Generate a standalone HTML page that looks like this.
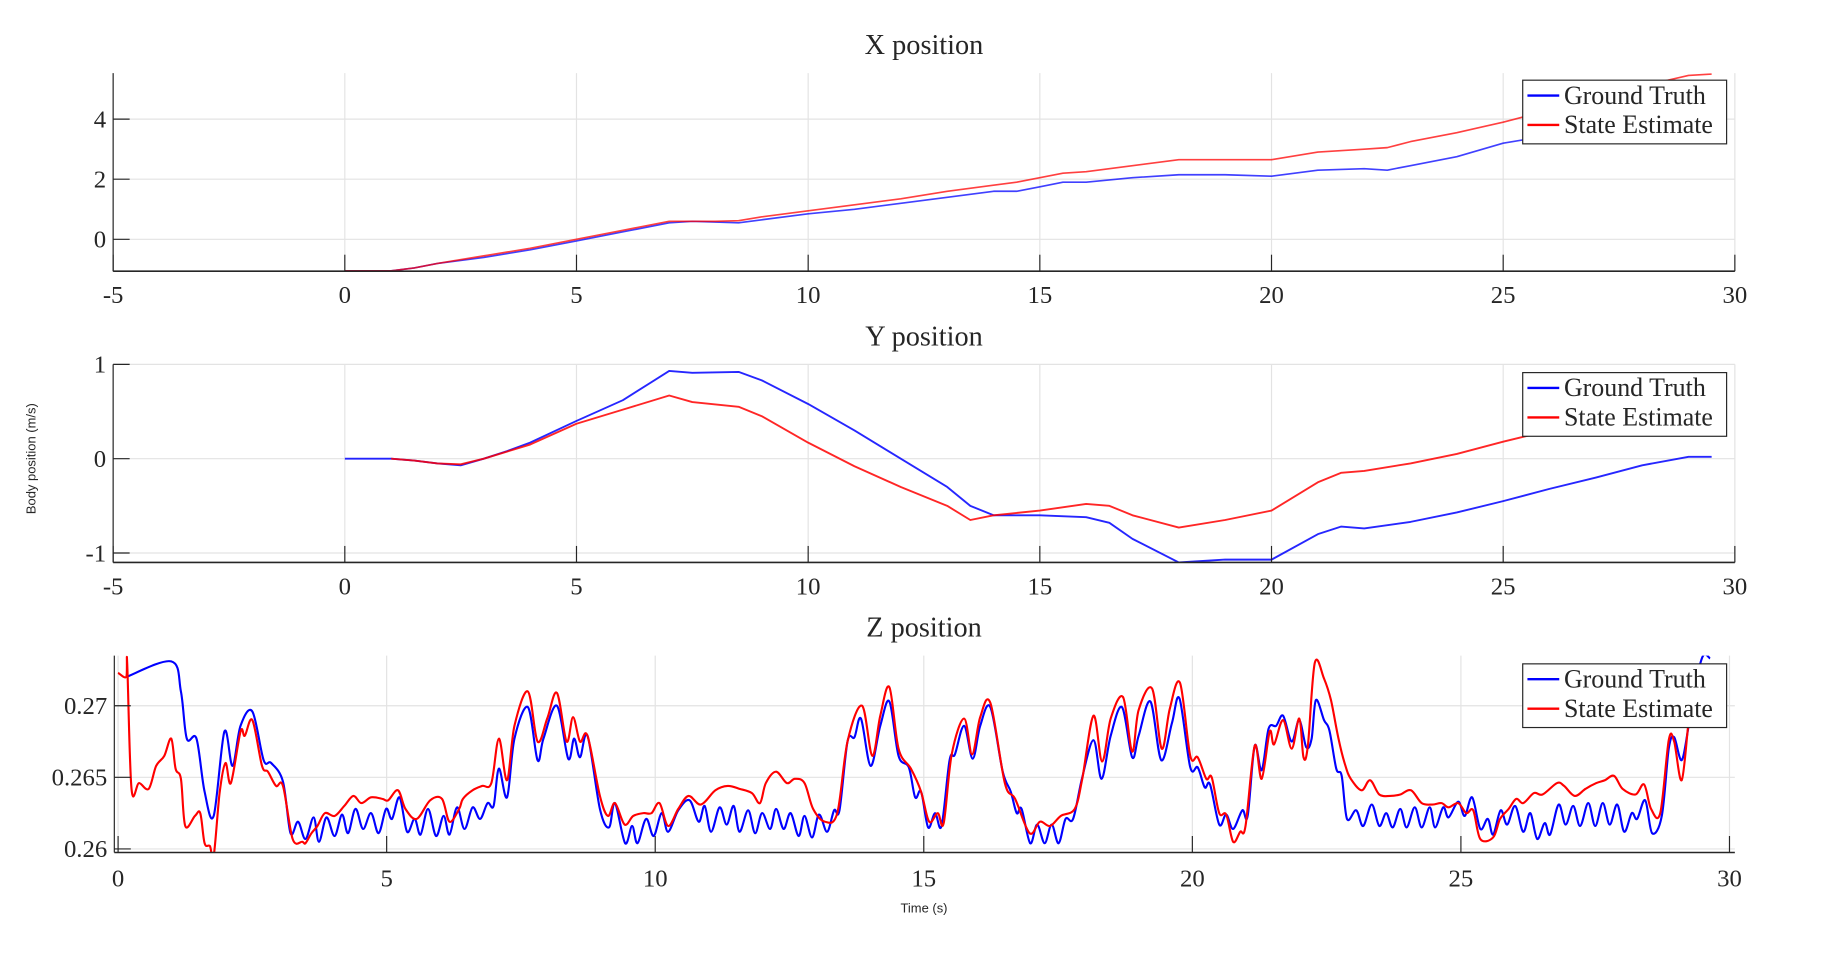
<!DOCTYPE html>
<html><head><meta charset="utf-8"><style>
html,body{margin:0;padding:0;background:#fff;}
svg{display:block;}
text{font-family:"Liberation Serif",serif;fill:#262626;}
.sans{font-family:"Liberation Sans",sans-serif;}
</style></head><body>
<svg id="fig" width="1848" height="961" viewBox="0 0 1568 815" preserveAspectRatio="none" xmlns="http://www.w3.org/2000/svg"></svg>
<script>
// ---- X position data ----
const xTimeGT = [0,1,1.5,2,3,4,5,6,7,7.5,8.5,9,10,11,12,13,14,14.5,15,15.5,16,17,18,19,20,21,22,22.5,23,24,25,26,27,28,29,29.5];
const xValGT  = [-1.05,-1.05,-0.95,-0.8,-0.6,-0.35,-0.05,0.25,0.55,0.6,0.55,0.65,0.85,1.0,1.2,1.4,1.6,1.6,1.75,1.9,1.9,2.05,2.15,2.15,2.1,2.3,2.35,2.3,2.45,2.75,3.2,3.45,3.75,4.0,4.3,4.45];
const xTimeSE = [0,1,1.5,2,3,4,5,6,7,8,8.5,9,10,11,12,13,14,14.5,15,15.5,16,17,18,19,20,21,22,22.5,23,24,25,26,27,28,29,29.5];
const xValSE  = [-1.05,-1.05,-0.95,-0.8,-0.55,-0.3,0.0,0.3,0.6,0.6,0.62,0.75,0.95,1.15,1.35,1.6,1.8,1.9,2.05,2.2,2.25,2.45,2.65,2.65,2.65,2.9,3.0,3.05,3.25,3.55,3.9,4.3,4.7,5.1,5.45,5.5];
// ---- Y position data ----
const yTimeGT = [0,1,1.5,2,2.5,3,3.5,4,5,6,7,7.5,8.5,9,10,11,12,13,13.5,14,15,16,16.5,17,18,19,20,21,21.5,22,23,24,25,26,27,28,29,29.5];
const yValGT  = [0,0,-0.02,-0.05,-0.07,0,0.08,0.17,0.4,0.62,0.93,0.91,0.92,0.83,0.58,0.3,0.0,-0.3,-0.5,-0.6,-0.6,-0.62,-0.68,-0.85,-1.1,-1.07,-1.07,-0.8,-0.72,-0.74,-0.67,-0.57,-0.45,-0.32,-0.2,-0.07,0.02,0.02];
const yTimeSE = [1,1.5,2,2.5,3,4,5,6,7,7.5,8.5,9,10,11,12,13,13.5,14,15,16,16.5,17,18,19,20,21,21.5,22,23,24,25,26,27,28,29];
const yValSE  = [0,-0.02,-0.05,-0.06,0,0.15,0.37,0.52,0.67,0.6,0.55,0.45,0.17,-0.08,-0.3,-0.5,-0.65,-0.6,-0.55,-0.48,-0.5,-0.6,-0.73,-0.65,-0.55,-0.25,-0.15,-0.13,-0.05,0.05,0.18,0.3,0.4,0.5,0.6];
// ---- Z position data (mm) ----
const zTimeGT = [0.15,0.99,1.17,1.28,1.46,1.61,1.78,1.98,2.13,2.28,2.5,2.71,2.85,3.07,3.21,3.35,3.49,3.64,3.74,3.88,4.03,4.17,4.28,4.42,4.56,4.71,4.85,4.99,5.1,5.24,5.38,5.52,5.63,5.77,5.92,6.06,6.17,6.31,6.45,6.6,6.74,6.88,6.99,7.09,7.24,7.38,7.63,7.81,7.92,8.17,8.38,8.49,8.6,8.74,8.97,9.14,9.25,9.44,9.57,9.67,9.83,9.97,10.12,10.24,10.43,10.64,10.81,10.92,11.04,11.2,11.33,11.46,11.57,11.73,11.86,11.99,12.14,12.25,12.39,12.52,12.67,12.78,12.92,13.05,13.2,13.33,13.43,13.58,13.71,13.83,14.01,14.19,14.36,14.53,14.72,14.84,14.95,15.08,15.21,15.33,15.48,15.58,15.75,15.91,16.05,16.24,16.47,16.62,16.73,16.82,16.98,17.11,17.25,17.38,17.51,17.64,17.78,17.95,18.16,18.31,18.48,18.69,18.88,19.0,19.22,19.42,19.62,19.76,19.96,20.1,20.23,20.33,20.5,20.63,20.76,20.93,21.03,21.16,21.29,21.42,21.56,21.69,21.85,21.99,22.12,22.22,22.3,22.45,22.55,22.68,22.78,22.88,23.05,23.18,23.34,23.48,23.61,23.73,23.87,23.99,24.14,24.27,24.42,24.52,24.67,24.77,24.95,25.07,25.21,25.36,25.5,25.6,25.74,25.86,26.01,26.16,26.29,26.42,26.56,26.66,26.82,26.95,27.09,27.22,27.37,27.5,27.64,27.77,27.91,28.04,28.18,28.28,28.43,28.56,28.74,28.87,28.97,29.11,29.24,29.38,29.51,29.64];
const zValGT  = [272.0,273.1,271,267.7,267.7,264,262.3,268.2,265.8,268.6,269.6,266.2,266,264.7,261.1,261.9,260.7,262.2,260.5,262.2,260.9,262.4,261.1,262.8,261.4,262.5,261.1,262.8,262.1,263.6,261.2,262.1,261,262.8,260.9,262.3,261,262.9,261.4,262.9,262.1,263.2,263,265.6,263.6,267.7,269.9,266.2,267.7,270,266.3,267.7,266.4,267.9,262.8,261.5,263.2,260.4,261.6,260.4,262.1,260.9,262.5,261.2,262.7,263.4,261.9,263,261.2,262.9,261.7,263,261.2,262.7,261.1,262.5,261.4,262.8,261.4,262.5,260.9,262.3,260.8,262.4,261.2,262.7,262.7,267.5,267.8,269.1,265.8,268.6,270.3,266.5,265.7,263.6,264,261.5,262.5,261.6,266.2,266.6,268.6,266.3,268.6,269.9,265.4,264,262.5,262.8,260.4,261.7,260.4,261.7,260.4,262.1,262.1,265,267.6,264.9,267.9,269.9,266.4,267.9,270.3,266.2,268.8,270.5,265.7,265.7,264.3,264.5,261.7,262.4,261.4,262.7,262.3,267.2,265.5,268.4,268.6,269.3,267.5,269,267.1,267.7,270.4,269,268.3,265.6,265.1,262.1,262.7,261.6,263.1,261.6,262.5,261.5,262.8,261.5,262.9,261.5,262.9,261.5,262.9,262.2,263.3,262.3,263.6,261.4,262.1,261,262.7,261.7,263,261.2,262.5,260.7,261.8,261,263.1,261.7,263,261.6,263.2,261.6,263.2,261.7,263.1,261.2,262.5,262.1,263.4,261.1,262.3,267,267.8,266.2,268.6,271.7,273.5,273.3];
const zTimeSE = [0,0.15,0.17,0.25,0.39,0.57,0.71,0.86,0.99,1.07,1.17,1.25,1.43,1.53,1.61,1.71,1.78,1.89,2.0,2.1,2.28,2.36,2.5,2.68,2.79,2.94,3.07,3.25,3.43,3.49,3.6,3.71,3.85,4.03,4.21,4.38,4.53,4.71,4.92,5.03,5.21,5.35,5.56,5.81,6.03,6.17,6.35,6.42,6.6,6.78,6.95,7.09,7.24,7.38,7.63,7.81,7.99,8.17,8.35,8.47,8.6,8.74,8.97,9.12,9.25,9.43,9.59,9.78,9.93,10.08,10.24,10.43,10.62,10.85,11.12,11.35,11.57,11.8,11.95,12.06,12.25,12.45,12.6,12.78,12.94,13.16,13.39,13.58,13.85,14.04,14.19,14.36,14.53,14.76,14.95,15.1,15.26,15.37,15.52,15.75,15.9,16.05,16.24,16.51,16.7,16.97,17.16,17.35,17.55,17.81,17.95,18.16,18.32,18.48,18.71,18.88,19.0,19.25,19.43,19.58,19.77,19.96,20.1,20.26,20.36,20.5,20.63,20.76,20.89,20.99,21.16,21.29,21.44,21.52,21.69,21.85,21.99,22.07,22.15,22.28,22.45,22.58,22.72,22.85,22.95,23.15,23.31,23.48,23.68,23.87,24.07,24.27,24.47,24.64,24.77,24.95,25.1,25.23,25.36,25.6,25.73,25.89,26.03,26.16,26.36,26.52,26.79,26.92,27.12,27.32,27.52,27.68,27.85,28.01,28.25,28.41,28.54,28.71,28.87,28.97,29.11,29.24,29.31];
const zValSE  = [272.3,272,273,264.2,264.6,264.2,265.8,266.5,267.7,265.6,264.9,261.6,262.3,262.5,260.4,260.2,259.5,263.9,266,264.6,268.2,267.9,269,265.8,265.4,264.4,264.4,260.7,260.5,260.4,261.1,261.6,262.5,262.3,263,263.7,263.2,263.6,263.5,263.4,264.1,262.8,262.1,263.4,263.5,261.9,262.8,263.5,264.1,264.4,264.6,267.7,264.8,268.6,271,267.5,269.1,270.9,267.5,269.2,267.5,267.9,263.7,262.3,263.2,261.7,262.3,262.5,262.5,263.2,261.6,262.8,263.7,263.1,264.1,264.4,264.2,263.9,263.2,264.6,265.4,264.6,264.9,264.6,262.8,261.9,262.5,267.5,270,266.5,269.3,271.3,267,265.6,264,261.9,262.5,261.8,266.6,269.1,266.6,269.2,270.2,264.6,263.5,261.1,261.9,261.6,262.3,262.8,264.9,269.3,266.1,269.1,270.6,266.8,269.7,271.2,267,269.8,271.6,266.5,266.4,264.9,265,262.5,262.4,260.5,261.2,261.6,267.2,264.9,268.2,267.3,269,267,269.1,266.4,267.2,273,271.9,270.4,267.7,265.8,264.9,264.1,264.8,263.8,263.7,263.8,264.1,263.2,263.1,263.2,262.9,263.2,262.5,262.7,260.7,260.8,262.1,262.8,263.5,263.2,263.9,263.8,264.6,264.4,263.7,264.2,264.6,264.8,265.1,264.2,263.8,264.5,262.8,262.5,267.6,267.5,264.8,268.9,270];
// ---- tick labels ----
const xTicks = [-5,0,5,10,15,20,25,30];
const zTicksT = [0,5,10,15,20,25,30];
const xYTicks = [0,2,4];
const yYTicks = [-1,0,1];
const zYTicks = [260,265,270];
const zYLabels = ['0.26','0.265','0.27'];

const NS='http://www.w3.org/2000/svg';
const svg=document.getElementById('fig');
function mk(tag,attrs,parent){const e=document.createElementNS(NS,tag);for(const k in attrs)e.setAttribute(k,attrs[k]);(parent||svg).appendChild(e);return e;}
function smoothPath(P){
  let d='M'+P[0][0].toFixed(1)+','+P[0][1].toFixed(1);
  for(let i=0;i<P.length-1;i++){
    const p0=P[i-1]||P[i],p1=P[i],p2=P[i+1],p3=P[i+2]||P[i+1];
    const c1x=p1[0]+(p2[0]-p0[0])/6,c1y=p1[1]+(p2[1]-p0[1])/6;
    const c2x=p2[0]-(p3[0]-p1[0])/6,c2y=p2[1]-(p3[1]-p1[1])/6;
    d+='C'+c1x.toFixed(1)+','+c1y.toFixed(1)+' '+c2x.toFixed(1)+','+c2y.toFixed(1)+' '+p2[0].toFixed(1)+','+p2[1].toFixed(1);
  }
  return d;
}

const panels=[
 {name:'x',title:'X position',L:96,R:1472,T:62,B:230,x0:-5,x1:30,y0:-1.06,y1:5.53,xt:xTicks,yt:xYTicks,yl:xYTicks.map(String),
  s:[[xTimeGT,xValGT,'#0000ff'],[xTimeSE,xValSE,'#ff0000']],w:1.4,op:0.75,ticklab:250,leg:[1292,68]},
 {name:'y',title:'Y position',L:96,R:1472,T:309,B:477,x0:-5,x1:30,y0:-1.1,y1:1.0,xt:xTicks,yt:yYTicks,yl:yYTicks.map(String),
  s:[[yTimeGT,yValGT,'#0000ff'],[yTimeSE,yValSE,'#ff0000']],w:1.6,op:0.85,ticklab:497,leg:[1292,316]},
 {name:'z',title:'Z position',L:97,R:1472,T:556,B:723,x0:-0.07,x1:30.1,y0:259.75,y1:273.5,xt:zTicksT,yt:zYTicks,yl:zYLabels,
  s:[[zTimeGT,zValGT,'#0000ff'],[zTimeSE,zValSE,'#ff0000']],w:1.8,op:1,ticklab:745,leg:[1292,563]}
];

panels.forEach(p=>{
  const g=mk('g',{});
  
  
  const sx=v=>p.L+(v-p.x0)/(p.x1-p.x0)*(p.R-p.L);
  const sy=v=>p.B-(v-p.y0)/(p.y1-p.y0)*(p.B-p.T);
  const clip=mk('clipPath',{id:'clip-'+p.name},g);
  mk('rect',{x:p.L,y:p.T,width:p.R-p.L,height:p.B-p.T},clip);
  p.xt.forEach(t=>{const l=mk('line',{x1:sx(t),x2:sx(t),y1:p.T,y2:p.B,stroke:'#e3e3e3','stroke-width':1},g);
    
    });
  p.yt.forEach(t=>{const l=mk('line',{x1:p.L,x2:p.R,y1:sy(t),y2:sy(t),stroke:'#e3e3e3','stroke-width':1},g);
    
    });
  p.s.forEach((s,i)=>{
    const pts=s[0].map((t,j)=>[sx(t),sy(s[1][j])]);
    const d=p.name==='z'?smoothPath(pts):pts.map((q,j)=>(j?'L':'M')+q[0].toFixed(1)+','+q[1].toFixed(1)).join('');
    const path=mk('path',{d:d,fill:'none',stroke:s[2],'stroke-width':p.w,'stroke-opacity':p.op,'stroke-linejoin':'round','clip-path':'url(#clip-'+p.name+')'},g);
    
    
  });
  mk('line',{x1:p.L,x2:p.L,y1:p.T,y2:p.B,stroke:'#262626','stroke-width':1},g);
  mk('line',{x1:p.L,x2:p.R,y1:p.B,y2:p.B,stroke:'#262626','stroke-width':1.3},g);
  p.xt.forEach(t=>{
    mk('line',{x1:sx(t),x2:sx(t),y1:p.B,y2:p.B-14,stroke:'#262626','stroke-width':1},g);
    const tx=mk('text',{x:sx(t),y:p.ticklab+7,'text-anchor':'middle','font-size':21},g);
    tx.textContent=String(t);
    
    
  });
  p.yt.forEach((t,i)=>{
    mk('line',{x1:p.L,x2:p.L+14,y1:sy(t),y2:sy(t),stroke:'#262626','stroke-width':1},g);
    const tx=mk('text',{x:p.L-6,y:sy(t)+7,'text-anchor':'end','font-size':21},g);
    tx.textContent=p.yl[i];
    
    
  });
  const ti=mk('text',{x:784,y:p.T-16,'text-anchor':'middle','font-size':24},g);
  ti.textContent=p.title;
  
  
  const lx=p.leg[0],ly=p.leg[1];
  const lg=mk('g',{},g);
  
  
  mk('rect',{x:lx,y:ly,width:173,height:54,fill:'#fff',stroke:'#262626','stroke-width':1},lg);
  [['Ground Truth','#0000ff',13],['State Estimate','#ff0000',38]].forEach(e=>{
    const le=mk('g',{},lg);
    
    
    mk('line',{x1:lx+4,x2:lx+31,y1:ly+e[2],y2:ly+e[2],stroke:e[1],'stroke-width':2},le);
    const t=mk('text',{x:lx+35,y:ly+e[2]+7,'font-size':22},le);
    t.textContent=e[0];
  });
});
const yl=mk('text',{x:30,y:389,'text-anchor':'middle','font-size':11,transform:'rotate(-90 30 389)','class':'sans'});
yl.textContent='Body position (m/s)';


const xl=mk('text',{x:784,y:774,'text-anchor':'middle','font-size':11,'class':'sans'});
xl.textContent='Time (s)';


</script>
</body></html>
